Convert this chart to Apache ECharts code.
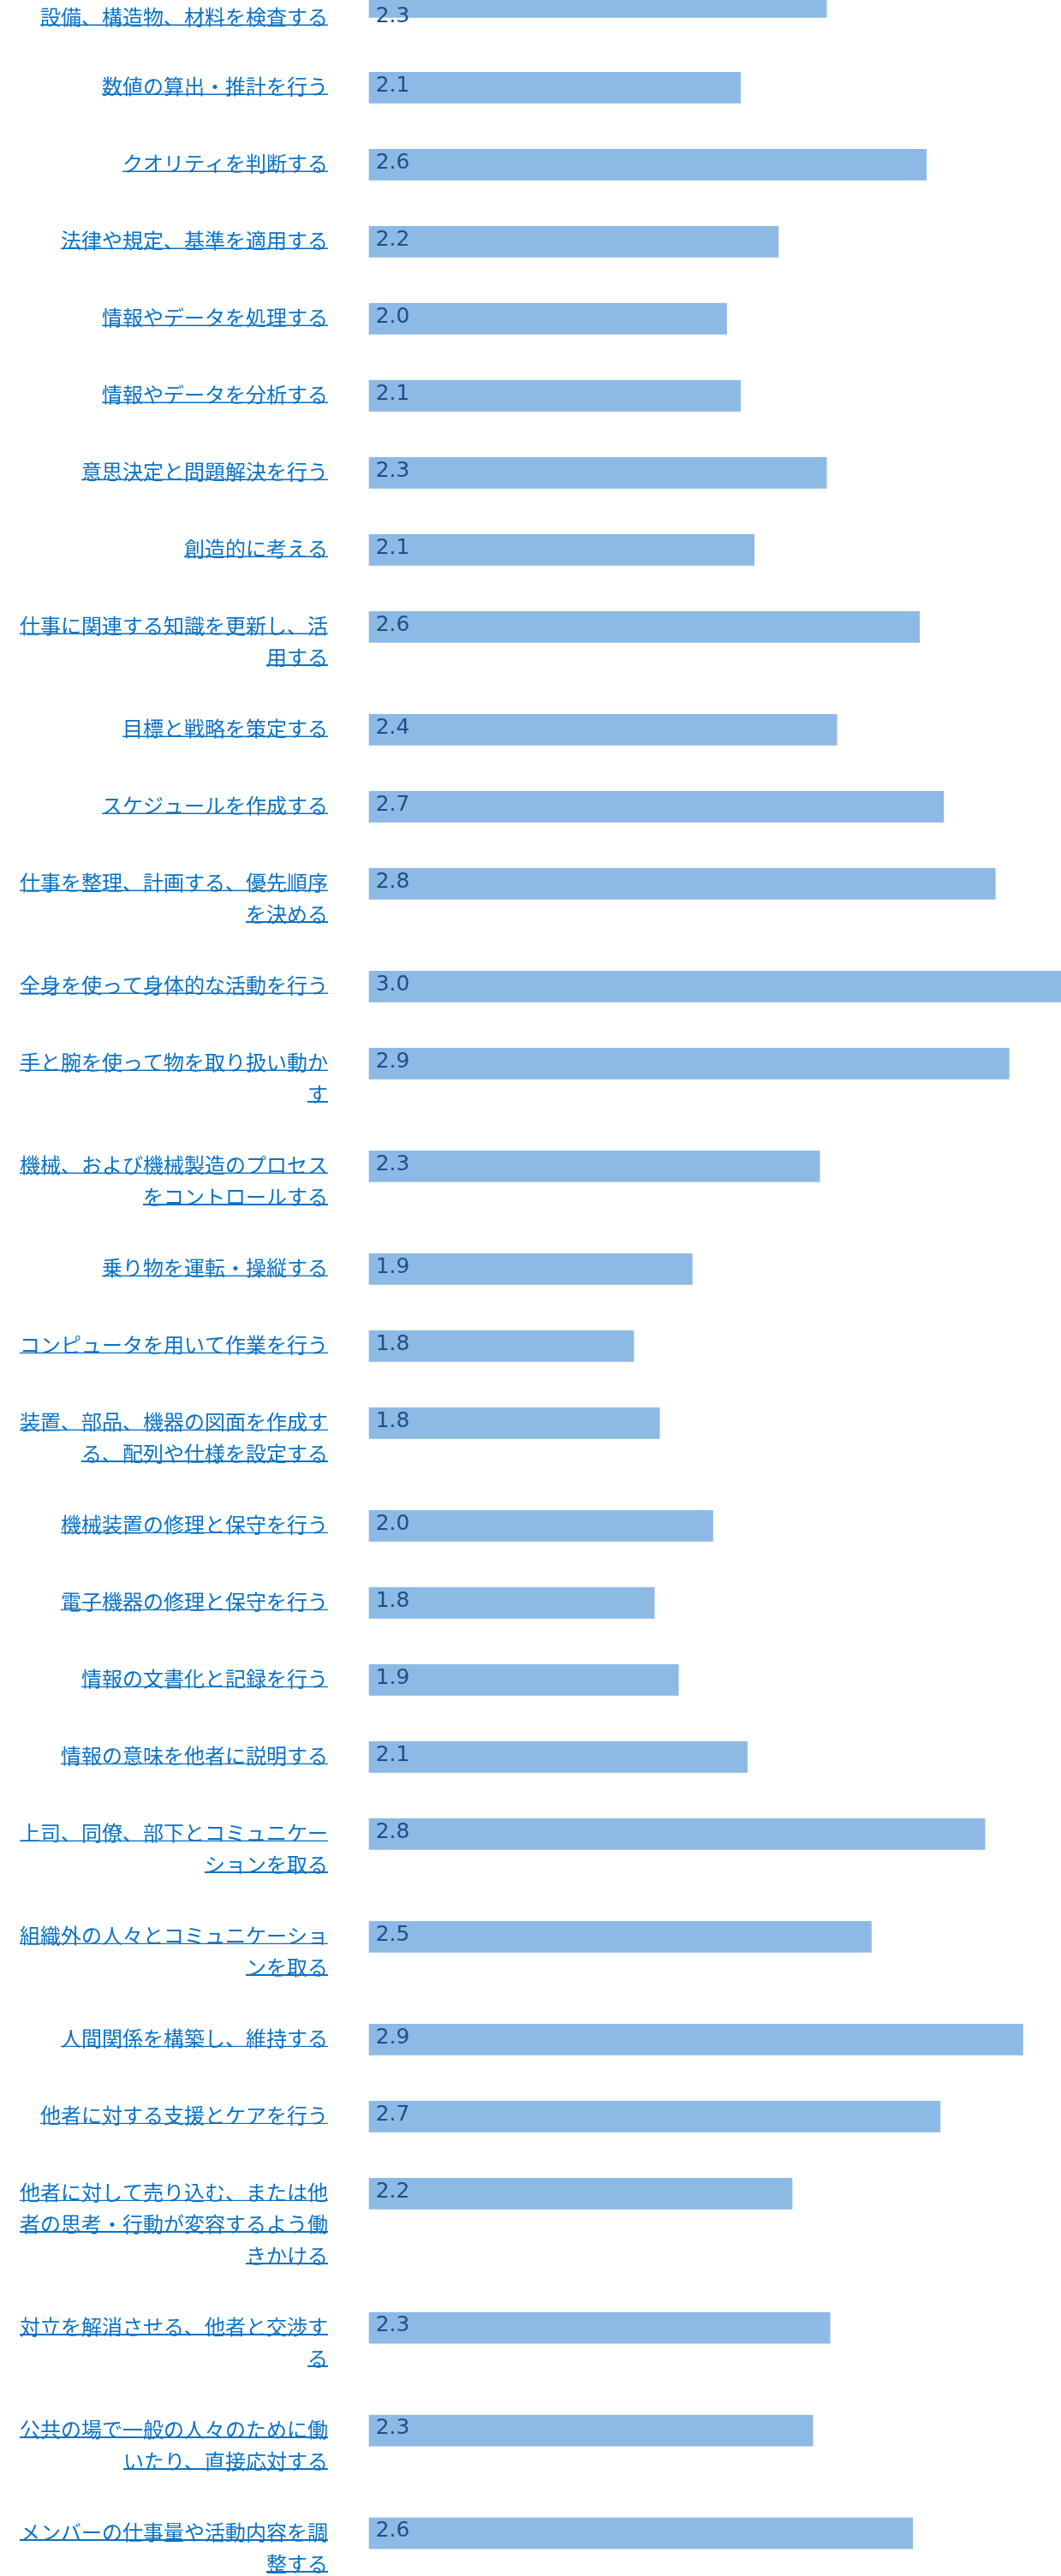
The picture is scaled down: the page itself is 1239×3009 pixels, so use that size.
<!DOCTYPE html>
<html>
<head>
<meta charset="utf-8">
<script src="https://cdn.jsdelivr.net/npm/echarts@6/dist/echarts.min.js"></script>
<style>
html, body { margin: 0; padding: 0; background: #ffffff; }
#chart { width: 1239px; height: 3009px; }
</style>
</head>
<body>
<div id="chart"></div>
<script>
// ---------- data ----------
const categories = [
  '設備、構造物、材料を検査する',
  '数値の算出・推計を行う',
  'クオリティを判断する',
  '法律や規定、基準を適用する',
  '情報やデータを処理する',
  '情報やデータを分析する',
  '意思決定と問題解決を行う',
  '創造的に考える',
  '仕事に関連する知識を更新し、活用する',
  '目標と戦略を策定する',
  'スケジュールを作成する',
  '仕事を整理、計画する、優先順序を決める',
  '全身を使って身体的な活動を行う',
  '手と腕を使って物を取り扱い動かす',
  '機械、および機械製造のプロセスをコントロールする',
  '乗り物を運転・操縦する',
  'コンピュータを用いて作業を行う',
  '装置、部品、機器の図面を作成する、配列や仕様を設定する',
  '機械装置の修理と保守を行う',
  '電子機器の修理と保守を行う',
  '情報の文書化と記録を行う',
  '情報の意味を他者に説明する',
  '上司、同僚、部下とコミュニケーションを取る',
  '組織外の人々とコミュニケーションを取る',
  '人間関係を構築し、維持する',
  '他者に対する支援とケアを行う',
  '他者に対して売り込む、または他者の思考・行動が変容するよう働きかける',
  '対立を解消させる、他者と交渉する',
  '公共の場で一般の人々のために働いたり、直接応対する',
  'メンバーの仕事量や活動内容を調整する'
];

const values = [
  2.33, 2.08, 2.62, 2.19, 2.04, 2.08, 2.33, 2.12, 2.60, 2.36,
  2.67, 2.82, 3.01, 2.86, 2.31, 1.94, 1.77, 1.845, 2.00, 1.83,
  1.90, 2.10, 2.79, 2.46, 2.90, 2.66, 2.23, 2.34, 2.29, 2.58
];

const AXIS_MIN = 1;
const AXIS_MAX = 3.01;

// ---------- style / layout ----------
const LABEL_COLOR = '#0b72c4';
const VALUE_COLOR = '#1b4f8c';
const BAR_COLOR = '#8dbae4';
const CJK_FONT = '"Noto Sans CJK JP", "Noto Sans CJK SC", sans-serif';
const NUM_FONT = '"DejaVu Sans", Verdana, sans-serif';

const FONT_SIZE = 24;
const LINE_PITCH = 36.67;
const BAR_H = 36.67;
const CHARS_PER_LINE = 15;
const GRID_LEFT = 430.7;
const LABEL_RIGHT = 383;

function wrap(s) {
  const out = [];
  for (let i = 0; i < s.length; i += CHARS_PER_LINE) out.push(s.slice(i, i + CHARS_PER_LINE));
  return out;
}
const lineSets = categories.map(wrap);

function rowHeight(n) { return Math.max(43.33, n * LINE_PITCH) + 46.67; }

const barTops = [];
const textTops = [];
let cursor = 84;
for (let i = 0; i < categories.length; i++) {
  if (i === 0) { barTops.push(-16); textTops.push(3); continue; }
  barTops.push(cursor);
  textTops.push(cursor);
  cursor += rowHeight(lineSets[i].length);
}

// underline drawn as a stretched background image of each text line
const ul = document.createElement('canvas');
ul.width = 8; ul.height = 110;
const g = ul.getContext('2d');
g.fillStyle = LABEL_COLOR;
g.fillRect(0, 93, 8, 8);

const grids = [], xAxes = [], yAxes = [], series = [];
categories.forEach(function (name, i) {
  const n = lineSets[i].length;
  const bandCenter = barTops[i] + BAR_H / 2;
  const firstLineCenter = textTops[i] + 17.2;
  const shift = firstLineCenter - (bandCenter - n * LINE_PITCH / 2 + LINE_PITCH / 2);
  const pad = shift >= 0 ? [2 * shift, 0, 0, 0] : [0, 0, -2 * shift, 0];

  grids.push({
    left: GRID_LEFT, right: 0, top: barTops[i], height: BAR_H,
    containLabel: false, outerBoundsMode: 'none'
  });
  xAxes.push({
    type: 'value', gridIndex: i, min: AXIS_MIN, max: AXIS_MAX, show: false
  });
  yAxes.push({
    type: 'category', gridIndex: i, data: [name],
    axisLine: { show: false }, axisTick: { show: false }, splitLine: { show: false },
    axisLabel: {
      show: true,
      margin: GRID_LEFT - LABEL_RIGHT,
      padding: pad,
      formatter: function () {
        return lineSets[i].map(function (l) { return '{u|' + l + '}'; }).join('\n');
      },
      rich: {
        u: {
          fontFamily: CJK_FONT, fontSize: FONT_SIZE, color: LABEL_COLOR,
          lineHeight: LINE_PITCH, backgroundColor: { image: ul }
        }
      }
    }
  });
  series.push({
    type: 'bar', xAxisIndex: i, yAxisIndex: i,
    data: [values[i]], barWidth: '100%',
    itemStyle: { color: BAR_COLOR },
    silent: true,
    label: {
      show: true,
      position: [8, textTops[i] - barTops[i] + 16],
      align: 'left', verticalAlign: 'middle',
      formatter: function () { return values[i].toFixed(1); },
      fontFamily: NUM_FONT, fontSize: 25, color: VALUE_COLOR
    }
  });
});

const chart = echarts.init(document.getElementById('chart'), null, { renderer: 'canvas' });
chart.setOption({
  animation: false,
  backgroundColor: '#ffffff',
  grid: grids,
  xAxis: xAxes,
  yAxis: yAxes,
  series: series
});
</script>
</body>
</html>
